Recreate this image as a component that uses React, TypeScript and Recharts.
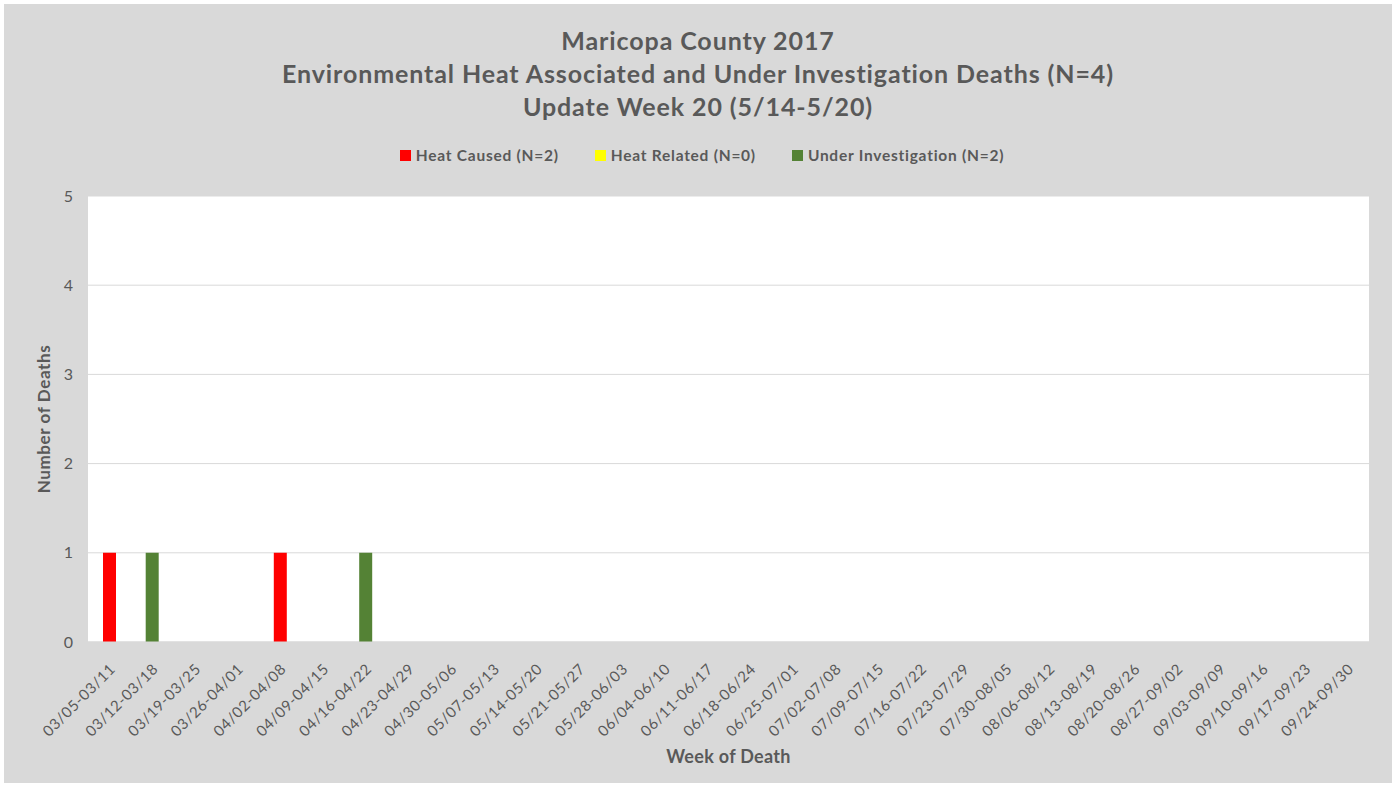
import React from "react";
import {
  BarChart,
  Bar,
  XAxis,
  YAxis,
  CartesianGrid,
} from "recharts";

const weeks = [
  "03/05-03/11", "03/12-03/18", "03/19-03/25", "03/26-04/01", "04/02-04/08",
  "04/09-04/15", "04/16-04/22", "04/23-04/29", "04/30-05/06", "05/07-05/13",
  "05/14-05/20", "05/21-05/27", "05/28-06/03", "06/04-06/10", "06/11-06/17",
  "06/18-06/24", "06/25-07/01", "07/02-07/08", "07/09-07/15", "07/16-07/22",
  "07/23-07/29", "07/30-08/05", "08/06-08/12", "08/13-08/19", "08/20-08/26",
  "08/27-09/02", "09/03-09/09", "09/10-09/16", "09/17-09/23", "09/24-09/30",
];

const heatCaused = [1, 0, 0, 0, 1, 0, 0, 0, 0, 0, 0, 0, 0, 0, 0, 0, 0, 0, 0, 0, 0, 0, 0, 0, 0, 0, 0, 0, 0, 0];
const heatRelated = [0, 0, 0, 0, 0, 0, 0, 0, 0, 0, 0, 0, 0, 0, 0, 0, 0, 0, 0, 0, 0, 0, 0, 0, 0, 0, 0, 0, 0, 0];
const underInvestigation = [0, 1, 0, 0, 0, 0, 1, 0, 0, 0, 0, 0, 0, 0, 0, 0, 0, 0, 0, 0, 0, 0, 0, 0, 0, 0, 0, 0, 0, 0];

const yTicks = [0, 1, 2, 3, 4, 5];

const titleLines = [
  "Maricopa County 2017",
  "Environmental Heat Associated and Under Investigation Deaths (N=4)",
  "Update Week 20 (5/14-5/20)",
];

const series = [
  { key: "caused", name: "Heat Caused (N=2)", color: "#ff0000" },
  { key: "related", name: "Heat Related (N=0)", color: "#ffff00" },
  { key: "investigation", name: "Under Investigation (N=2)", color: "#548235" },
];

const data = weeks.map((week, i) => ({
  week,
  caused: heatCaused[i],
  related: heatRelated[i],
  investigation: underInvestigation[i],
}));

const FONT = "Lato, 'Open Sans', sans-serif";
const TEXT = "#595959";

function WeekTick(props: any) {
  const { x, y, payload } = props;
  return (
    <g transform={`translate(${x + 7},${y + 20})`}>
      <text
        textAnchor="end"
        transform="rotate(-45)"
        fill={TEXT}
        fontSize={15}
        letterSpacing={0.6}
        fontFamily={FONT}
      >
        {payload.value}
      </text>
    </g>
  );
}

export default function App() {
  return (
    <div style={{ position: "absolute", left: 0, top: 0, width: 1394, height: 787, background: "#fff" }}>
      <div style={{ position: "absolute", left: 4, top: 4, width: 1388, height: 779, background: "#d9d9d9" }}>
        <div
          style={{
            position: "absolute",
            left: 0,
            top: 20,
            width: 1388,
            textAlign: "center",
            fontFamily: FONT,
            fontWeight: 700,
            fontSize: 25,
            letterSpacing: 0.9,
            lineHeight: "33px",
            color: TEXT,
          }}
        >
          {titleLines.map((t) => (
            <div key={t}>{t}</div>
          ))}
        </div>
        <div
          style={{
            position: "absolute",
            left: 4,
            top: 141,
            width: 1388,
            display: "flex",
            justifyContent: "center",
            gap: 36,
            fontFamily: FONT,
            fontWeight: 700,
            fontSize: 15.5,
            letterSpacing: 0.75,
            lineHeight: "20px",
            color: TEXT,
          }}
        >
          {series.map((s) => (
            <div key={s.key} style={{ display: "flex", alignItems: "center", gap: 5 }}>
              <span style={{ width: 11, height: 11, background: s.color, display: "inline-block" }} />
              <span>{s.name}</span>
            </div>
          ))}
        </div>
        <BarChart
          width={1388}
          height={779}
          data={data}
          margin={{ top: 192, right: 23, bottom: 0, left: 0 }}
          barSize={13}
        >
          <CartesianGrid vertical={false} stroke="#d9d9d9" fill="#ffffff" />
          <XAxis
            dataKey="week"
            interval={0}
            height={141}
            axisLine={{ stroke: "#d9d9d9" }}
            tickLine={false}
            tick={<WeekTick />}
            label={{
              content: (p: any) => {
                const vb = p.viewBox;
                return (
                  <text
                    x={vb.x + vb.width / 2}
                    y={vb.y + 121}
                    textAnchor="middle"
                    fill={TEXT}
                    fontFamily={FONT}
                    fontWeight={700}
                    fontSize={18}
                    letterSpacing={0.3}
                  >
                    Week of Death
                  </text>
                );
              },
            }}
          />
          <YAxis
            width={84}
            domain={[0, 5]}
            ticks={yTicks}
            axisLine={false}
            tickLine={false}
            tickSize={0}
            tickMargin={15}
            tick={{ fill: TEXT, fontSize: 16, fontFamily: FONT }}
            label={{
              content: (p: any) => {
                const vb = p.viewBox;
                const cx = 46;
                const cy = vb.y + vb.height / 2;
                return (
                  <text
                    x={cx}
                    y={cy}
                    transform={`rotate(-90 ${cx} ${cy})`}
                    textAnchor="middle"
                    fill={TEXT}
                    fontFamily={FONT}
                    fontWeight={700}
                    fontSize={17}
                    letterSpacing={0.6}
                  >
                    Number of Deaths
                  </text>
                );
              },
            }}
          />
          {series.map((s) => (
            <Bar
              key={s.key}
              dataKey={s.key}
              name={s.name}
              stackId="a"
              fill={s.color}
              isAnimationActive={false}
            />
          ))}
        </BarChart>
      </div>
    </div>
  );
}
